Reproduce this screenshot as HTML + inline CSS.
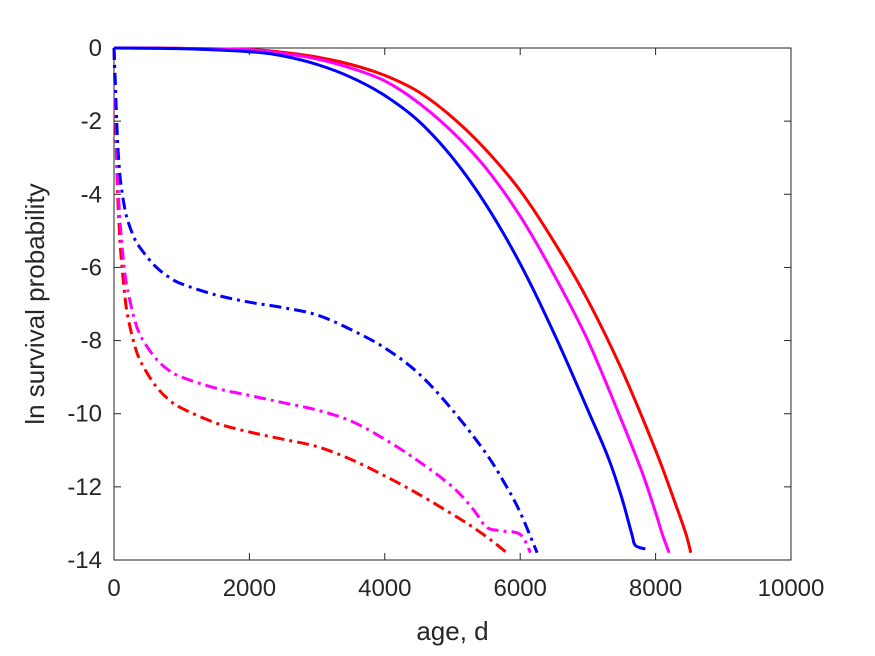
<!DOCTYPE html>
<html><head><meta charset="utf-8"><style>body{margin:0;background:#fff}svg{display:block}text{font-family:"Liberation Sans",Arial,sans-serif}</style></head>
<body>
<svg id="chart" width="875" height="656" xmlns="http://www.w3.org/2000/svg"></svg>
<script>
const xTicks=[0,2000,4000,6000,8000,10000];
const yTicks=[0,-2,-4,-6,-8,-10,-12,-14];
const blueSolidX=[0,1000,2000,2500,3000,3500,4000,4500,5000,5500,6000,6500,7000,7300,7500,7650,7700,7850];
const blueSolidY=[0,-0.02,-0.1,-0.22,-0.45,-0.8,-1.3,-2.0,-3.0,-4.3,-5.9,-7.8,-9.9,-11.2,-12.3,-13.3,-13.6,-13.7];
const magSolidX=[0,1000,2000,2500,3000,3500,4000,4500,5000,5500,6000,6500,7000,7500,7800,8000,8100,8200];
const magSolidY=[0,-0.01,-0.05,-0.15,-0.3,-0.55,-0.9,-1.5,-2.3,-3.3,-4.6,-6.2,-8.0,-10.2,-11.6,-12.7,-13.3,-13.8];
const redSolidX=[0,1000,2000,2500,3000,3500,4000,4500,5000,5500,6000,6500,7000,7500,8000,8300,8450,8520];
const redSolidY=[0,-0.01,-0.04,-0.12,-0.25,-0.45,-0.75,-1.2,-1.9,-2.8,-3.9,-5.3,-6.9,-8.8,-11.0,-12.5,-13.3,-13.8];
const blueDashX=[0,20,40,60,80,100,150,200,300,400,600,800,1000,1500,2000,2500,3000,3500,4000,4500,5000,5500,5800,6000,6250];
const blueDashY=[0,-1.0,-2.0,-2.8,-3.3,-3.7,-4.3,-4.7,-5.2,-5.5,-5.95,-6.25,-6.45,-6.75,-6.95,-7.1,-7.3,-7.7,-8.2,-8.9,-9.9,-11.1,-12.0,-12.7,-13.8];
const magDashX=[0,20,40,60,80,100,150,200,300,400,600,800,1000,1500,2000,2500,3000,3500,4000,4500,5000,5300,5500,5700,6000,6150];
const magDashY=[0,-1.4,-2.8,-3.8,-4.5,-5.0,-6.0,-6.6,-7.4,-7.9,-8.45,-8.8,-9.0,-9.3,-9.5,-9.7,-9.9,-10.2,-10.7,-11.3,-12.0,-12.6,-13.1,-13.2,-13.3,-13.8];
const redDashX=[0,20,40,60,80,100,150,200,300,400,600,800,1000,1500,2000,2500,3000,3500,4000,4500,5000,5300,5600,5800];
const redDashY=[0,-1.6,-3.2,-4.3,-5.0,-5.6,-6.6,-7.3,-8.1,-8.6,-9.2,-9.6,-9.85,-10.25,-10.5,-10.7,-10.9,-11.25,-11.7,-12.2,-12.75,-13.1,-13.5,-13.8];
const L=114,R=791,T=48,B=560;
const sx=v=>L+(v-0)/10000*(R-L);
const sy=v=>T+(0-v)/14*(B-T);
const svg=document.getElementById('chart');
const NS='http://www.w3.org/2000/svg';
function mk(tag,attrs,parent){const e=document.createElementNS(NS,tag);for(const k in attrs)e.setAttribute(k,attrs[k]);(parent||svg).appendChild(e);return e;}
const box=mk('rect',{x:L,y:T,width:R-L,height:B-T,fill:'#fff',stroke:'#262626','stroke-width':1});


xTicks.forEach(t=>{const x=sx(t);
 const a=mk('line',{x1:x,x2:x,y1:B,y2:B-7,stroke:'#262626'});
 mk('line',{x1:x,x2:x,y1:T,y2:T+7,stroke:'#262626'});
 const tx=mk('text',{x:x,y:B+36,'text-anchor':'middle','font-size':24,fill:'#262626'});tx.textContent=t;
 });
yTicks.forEach(t=>{const y=sy(t);
 const a=mk('line',{x1:L,x2:L+7,y1:y,y2:y,stroke:'#262626'});
 mk('line',{x1:R,x2:R-7,y1:y,y2:y,stroke:'#262626'});
 const tx=mk('text',{x:L-12,y:y+8,'text-anchor':'end','font-size':24,fill:'#262626'});tx.textContent=t;
 });
const xl=mk('text',{x:(L+R)/2,y:640,'text-anchor':'middle','font-size':26,fill:'#262626'});xl.textContent='age, d';

const yl=mk('text',{x:0,y:0,transform:'translate(44,304) rotate(-90)','text-anchor':'middle','font-size':26,fill:'#262626'});yl.textContent='ln survival probability';

function series(xs,ys,color,dash,name){
 const P=xs.map((v,i)=>[sx(v),sy(ys[i])]);
 let d='M'+P[0][0].toFixed(1)+','+P[0][1].toFixed(1);
 for(let i=0;i<P.length-1;i++){
  const p0=P[i-1]||P[i],p1=P[i],p2=P[i+1],p3=P[i+2]||P[i+1];
  const c1=[p1[0]+(p2[0]-p0[0])/6,p1[1]+(p2[1]-p0[1])/6];
  const c2=[p2[0]-(p3[0]-p1[0])/6,p2[1]-(p3[1]-p1[1])/6];
  d+=' C'+c1[0].toFixed(1)+','+c1[1].toFixed(1)+' '+c2[0].toFixed(1)+','+c2[1].toFixed(1)+' '+p2[0].toFixed(1)+','+p2[1].toFixed(1);
 }
 const p=mk('path',{d:d,fill:'none',stroke:color,'stroke-width':3,'stroke-dasharray':dash||'none','stroke-linejoin':'round'});
 }
const dd='12,5,3,5';
series(redDashX,redDashY,'#ff0000',dd,'red-dashdot-line');
series(magDashX,magDashY,'#ff00ff',dd,'magenta-dashdot-line');
series(blueDashX,blueDashY,'#0000ff',dd,'blue-dashdot-line');
series(redSolidX,redSolidY,'#ff0000',null,'red-solid-line');
series(magSolidX,magSolidY,'#ff00ff',null,'magenta-solid-line');
series(blueSolidX,blueSolidY,'#0000ff',null,'blue-solid-line');
</script>
</body></html>
